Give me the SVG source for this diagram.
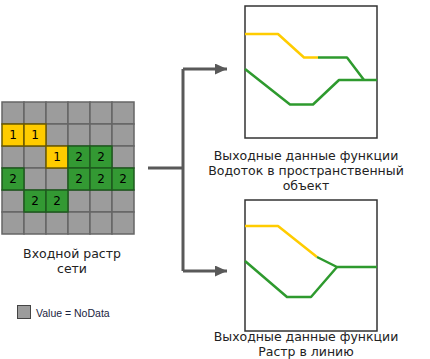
<svg xmlns="http://www.w3.org/2000/svg" width="430" height="359" viewBox="0 0 430 359">
<style>
.g{fill:#9c9c9c;stroke:#666;stroke-width:1.5}
.y{fill:#ffcc00;stroke:#6b5a00;stroke-width:1.5}
.gr{fill:#339933;stroke:#1e5a1e;stroke-width:1.5}
.n{font-family:"DejaVu Sans",Verdana,sans-serif;font-size:12px;fill:#000;text-anchor:middle}
.t{font-family:"DejaVu Sans",Verdana,sans-serif;font-size:12.5px;fill:#222;text-anchor:middle}
.box{fill:#fff;stroke:#333;stroke-width:1.5}
.ly{fill:none;stroke:#ffcc00;stroke-width:2.5;stroke-linejoin:round}
.lg{fill:none;stroke:#2e9a2e;stroke-width:2.5;stroke-linejoin:round}
.c{fill:none;stroke:#595959;stroke-width:3}
</style>
<defs>
<marker id="ah" markerWidth="12" markerHeight="11" refX="12" refY="5.5" orient="auto" markerUnits="userSpaceOnUse">
<path d="M0,0 L12,5.5 L0,11 Z" fill="#595959"/>
</marker>
</defs>
<g id="grid">
<rect class="g" x="2" y="102" width="22" height="22"/><rect class="g" x="24" y="102" width="22" height="22"/><rect class="g" x="46" y="102" width="22" height="22"/><rect class="g" x="68" y="102" width="22" height="22"/><rect class="g" x="90" y="102" width="22" height="22"/><rect class="g" x="112" y="102" width="22" height="22"/>
<rect class="g" x="46" y="124" width="22" height="22"/><rect class="g" x="68" y="124" width="22" height="22"/><rect class="g" x="90" y="124" width="22" height="22"/><rect class="g" x="112" y="124" width="22" height="22"/>
<rect class="g" x="2" y="146" width="22" height="22"/><rect class="g" x="24" y="146" width="22" height="22"/><rect class="g" x="112" y="146" width="22" height="22"/>
<rect class="g" x="24" y="168" width="22" height="22"/><rect class="g" x="46" y="168" width="22" height="22"/>
<rect class="g" x="2" y="190" width="22" height="22"/><rect class="g" x="68" y="190" width="22" height="22"/><rect class="g" x="90" y="190" width="22" height="22"/><rect class="g" x="112" y="190" width="22" height="22"/>
<rect class="g" x="2" y="212" width="22" height="22"/><rect class="g" x="24" y="212" width="22" height="22"/><rect class="g" x="46" y="212" width="22" height="22"/><rect class="g" x="68" y="212" width="22" height="22"/><rect class="g" x="90" y="212" width="22" height="22"/><rect class="g" x="112" y="212" width="22" height="22"/>
<rect class="y" x="2" y="124" width="22" height="22"/><rect class="y" x="24" y="124" width="22" height="22"/><rect class="y" x="46" y="146" width="22" height="22"/>
<rect class="gr" x="68" y="146" width="22" height="22"/><rect class="gr" x="90" y="146" width="22" height="22"/>
<rect class="gr" x="2" y="168" width="22" height="22"/><rect class="gr" x="68" y="168" width="22" height="22"/><rect class="gr" x="90" y="168" width="22" height="22"/><rect class="gr" x="112" y="168" width="22" height="22"/>
<rect class="gr" x="24" y="190" width="22" height="22"/><rect class="gr" x="46" y="190" width="22" height="22"/>
<text class="n" x="13" y="139">1</text><text class="n" x="35" y="139">1</text><text class="n" x="57" y="161">1</text>
<text class="n" x="79" y="161">2</text><text class="n" x="101" y="161">2</text>
<text class="n" x="13" y="183">2</text><text class="n" x="79" y="183">2</text><text class="n" x="101" y="183">2</text><text class="n" x="123" y="183">2</text>
<text class="n" x="35" y="205">2</text><text class="n" x="57" y="205">2</text>
<text class="t" x="72" y="258">Входной растр</text>
<text class="t" x="72" y="273">сети</text>
</g>
<g id="legend">
<rect x="17.5" y="305.5" width="13" height="13" fill="#9c9c9c" stroke="#444" stroke-width="1"/>
<text x="36" y="317" font-family="Liberation Sans,Arial,sans-serif" font-size="10.5" fill="#1a2440">Value = NoData</text>
</g>
<g id="connectors">
<path class="c" d="M148,168 H183"/>
<path class="c" d="M183,69 V271"/>
<path class="c" d="M183,69 H227" marker-end="url(#ah)"/>
<path class="c" d="M183,271 H227" marker-end="url(#ah)"/>
</g>
<g id="out1">
<rect class="box" x="245" y="6" width="132" height="132"/>
<polyline class="ly" points="245,34 278,34 304,57.5 318,57.5"/>
<polyline class="lg" points="318,57.5 347,57.5 364,80"/>
<polyline class="lg" points="245,69 290,104.5 313,104.5 339,80 377,80"/>
<text class="t" x="306" y="160">Выходные данные функции</text>
<text class="t" x="306" y="175">Водоток в пространственный</text>
<text class="t" x="306" y="190">объект</text>
</g>
<g id="out2">
<rect class="box" x="245" y="200" width="132" height="131"/>
<polyline class="ly" points="245,226 278,226 317,257"/>
<polyline class="lg" points="317,257 337,267 377,267"/>
<polyline class="lg" points="245,261 287,297 311,297 337,267"/>
<text class="t" x="306" y="341">Выходные данные функции</text>
<text class="t" x="306" y="356">Растр в линию</text>
</g>
</svg>
